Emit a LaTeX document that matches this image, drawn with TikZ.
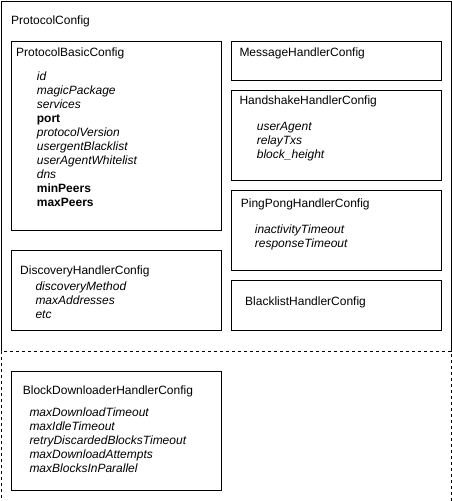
\documentclass[tikz,border=0pt]{standalone}
\usepackage{fontspec}
\setmainfont{Liberation Sans}

\tikzset{
    cfgbox/.style={draw, line width=1pt, fill=white, anchor=north west, inner sep=0pt},
    title/.style={anchor=base west, inner sep=0pt, font=\fontsize{12}{14}\selectfont},
    field/.style={anchor=base west, inner sep=0pt, font=\fontsize{12}{14}\selectfont\itshape},
}

\begin{document}
\begin{tikzpicture}[x=1pt, y=-1pt]
    \useasboundingbox (0,0) rectangle (451,501);

    % outer containers
    \node[cfgbox, minimum width=450, minimum height=350] (protocol) at (0.5,0.5) {};
    \node[cfgbox, dash pattern=on 3pt off 3pt, minimum width=450, minimum height=150] (extra) at (0.5,350.5) {};
    \node[title] (protocol-t) at (11,24.7) {ProtocolConfig};

    % left column
    \node[cfgbox, minimum width=210, minimum height=189.5] (basic) at (10.7,40.7) {};
    \node[cfgbox, minimum width=210, minimum height=80] (discovery) at (10.7,250.3) {};
    \node[cfgbox, minimum width=210, minimum height=119.5] (blockdl) at (10.7,370.7) {};

    % right column
    \node[cfgbox, minimum width=210, minimum height=39.5] (message) at (230.7,40.7) {};
    \node[cfgbox, minimum width=210, minimum height=90] (handshake) at (230.7,90.3) {};
    \node[cfgbox, minimum width=210, minimum height=80] (pingpong) at (230.7,190.3) {};
    \node[cfgbox, minimum width=210, minimum height=50] (blacklist) at (230.7,280.3) {};

    % titles
    \node[title] (basic-t) at (16,56) {ProtocolBasicConfig};
    \node[title] (discovery-t) at (20,274.7) {DiscoveryHandlerConfig};
    \node[title] (blockdl-t) at (22.7,394.7) {BlockDownloaderHandlerConfig};
    \node[title] (message-t) at (239.3,56) {MessageHandlerConfig};
    \node[title] (handshake-t) at (239.3,104) {HandshakeHandlerConfig};
    \node[title] (pingpong-t) at (240.7,207.3) {PingPongHandlerConfig};
    \node[title] (blacklist-t) at (245,305.7) {BlacklistHandlerConfig};

    % fields
    \foreach \f [count=\i from 0] in {id, magicPackage, services, {\upshape\bfseries port},
        protocolVersion, usergentBlacklist, userAgentWhitelist, dns,
        {\upshape\bfseries minPeers}, {\upshape\bfseries maxPeers}}
        \node[field] (basic-f\i) at (36.7,{80+14*\i}) {\f};

    \foreach \f [count=\i from 0] in {userAgent, relayTxs, block\_height}
        \node[field] (handshake-f\i) at (256.7,{130.7+14*\i}) {\f};

    \foreach \f [count=\i from 0] in {inactivityTimeout, responseTimeout}
        \node[field] (pingpong-f\i) at (254.7,{233+14*\i}) {\f};

    \foreach \f [count=\i from 0] in {discoveryMethod, maxAddresses, etc}
        \node[field] (discovery-f\i) at (35.3,{290.7+14*\i}) {\f};

    \foreach \f [count=\i from 0] in {maxDownloadTimeout, maxIdleTimeout,
        retryDiscardedBlocksTimeout, maxDownloadAttempts, maxBlocksInParallel}
        \node[field] (blockdl-f\i) at (29.3,{416.7+14*\i}) {\f};
\end{tikzpicture}
\end{document}
